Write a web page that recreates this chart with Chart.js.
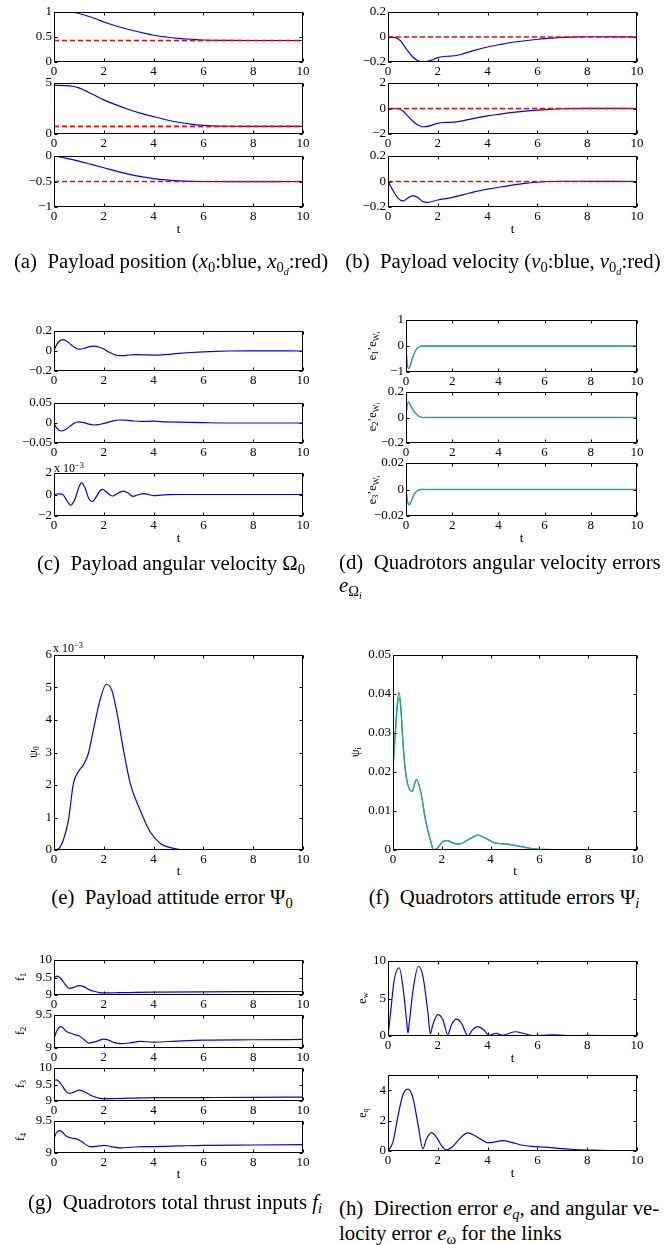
<!DOCTYPE html>
<html><head><meta charset="utf-8">
<script src="https://cdn.jsdelivr.net/npm/chart.js@4.4.0/dist/chart.umd.min.js"></script>
<style>
html,body{margin:0;padding:0;background:#fff;}
#root{position:relative;width:668px;height:1245px;overflow:hidden;font-family:"Liberation Serif","Times New Roman",serif;color:#000;}
canvas{position:absolute;}
.lbl{position:absolute;white-space:nowrap;font-size:12px;line-height:13px;}
.yl{transform:translate(-50%,-50%) rotate(-90deg);}
.xt{transform:translate(-50%,-50%);font-size:13px;}
.cap{position:absolute;white-space:nowrap;font-size:20.8px;line-height:24px;}
sub{font-size:70%;vertical-align:-0.3em;line-height:0;}
sup{font-size:70%;vertical-align:0.45em;line-height:0;}
</style></head><body><div id="root"></div>
<script>
// ---------------- DATA ----------------
const xTicks = [0, 2, 4, 6, 8, 10];

// (a) payload position x0 (blue) and x0d (red)
const tA1 = [0,0.5,0.8,1,1.25,1.5,1.75,2,2.5,3,3.5,4,4.5,5,5.5,6,7,8,10];
const x0_1 = [1.0,0.998,0.99,0.97,0.935,0.895,0.85,0.80,0.72,0.65,0.59,0.535,0.5,0.474,0.455,0.44,0.432,0.43,0.43];
const tA2 = [0,0.5,0.75,1,1.25,1.5,2,2.5,3,3.5,4,4.5,5,5.5,6,6.5,7,8,10];
const x0_2 = [4.76,4.75,4.68,4.52,4.25,3.95,3.35,2.85,2.4,2.02,1.7,1.4,1.15,0.96,0.84,0.78,0.76,0.75,0.75];
const tA3 = [0,0.5,1,1.5,2,2.5,3,3.5,4,4.5,5,5.5,6,7,10];
const x0_3 = [0,-0.045,-0.1,-0.165,-0.23,-0.295,-0.355,-0.405,-0.443,-0.47,-0.487,-0.497,-0.5,-0.502,-0.5];
const tRef = [0, 10];
const x0d_1 = [0.43, 0.43];
const x0d_2 = [0.75, 0.75];
const x0d_3 = [-0.5, -0.5];

// (b) payload velocity v0 (blue) and v0d (red)
const tB1 = [0,0.3,0.5,0.75,1,1.25,1.45,1.75,2,2.25,2.5,2.75,3,3.5,4,4.5,5,5.5,6,6.5,7,7.5,8,10];
const v0_1 = [0,-0.005,-0.03,-0.1,-0.16,-0.195,-0.2,-0.185,-0.165,-0.156,-0.153,-0.148,-0.135,-0.105,-0.08,-0.06,-0.042,-0.03,-0.018,-0.01,-0.003,0,0.002,0];
const tB2 = [0,0.4,0.6,0.8,1,1.2,1.4,1.6,1.8,2,2.25,2.5,2.75,3,3.5,4,4.5,5,5.5,6,6.5,7,8,10];
const v0_2 = [0,-0.02,-0.2,-0.6,-1.0,-1.3,-1.43,-1.4,-1.28,-1.16,-1.1,-1.09,-1.05,-0.97,-0.76,-0.58,-0.44,-0.31,-0.21,-0.13,-0.07,-0.02,0.01,0];
const tB3 = [0,0.2,0.4,0.6,0.8,1.0,1.2,1.4,1.6,2,2.5,3,3.5,4,4.5,5,5.5,6,6.5,7,10];
const v0_3 = [0,-0.07,-0.13,-0.152,-0.13,-0.11,-0.125,-0.158,-0.163,-0.145,-0.128,-0.105,-0.08,-0.06,-0.043,-0.028,-0.015,-0.006,0,0.002,0];
const v0d = [0, 0];

// (c) payload angular velocity Omega0
const tC1 = [0,0.1,0.2,0.35,0.5,0.7,0.9,1.0,1.2,1.4,1.6,1.8,2.0,2.2,2.4,2.6,2.8,3.0,3.3,3.6,4.0,4.5,5,5.5,6,6.5,7,8,10];
const om0_1 = [0,0.06,0.095,0.113,0.1,0.06,0.025,0.018,0.025,0.042,0.048,0.04,0.02,-0.01,-0.035,-0.047,-0.046,-0.04,-0.037,-0.038,-0.041,-0.035,-0.024,-0.015,-0.008,-0.003,0,0.001,0];
const tC2 = [0,0.1,0.3,0.5,0.7,0.9,1.0,1.2,1.4,1.6,1.8,2.0,2.3,2.6,2.9,3.2,3.5,4.0,4.5,5,6,7,10];
const om0_2 = [0,-0.012,-0.02,-0.015,-0.005,0.002,0.003,0.001,-0.003,-0.005,-0.004,-0.001,0.004,0.0075,0.007,0.005,0.004,0.0045,0.003,0.002,0.0008,0,0];
const tC3 = [0,0.2,0.35,0.5,0.67,0.85,1.0,1.11,1.25,1.4,1.54,1.7,1.85,1.96,2.1,2.25,2.36,2.55,2.79,3.0,3.16,3.35,3.6,3.8,4.0,4.3,4.6,5,10];
const om0_3e3 = [0,0.05,0,-0.5,-1.0,-0.4,0.7,1.08,0.6,-0.4,-0.66,-0.2,0.35,0.47,0.25,-0.05,-0.14,0.1,0.32,0.1,-0.17,-0.05,0.08,0,-0.1,-0.05,-0.02,0,0]; // x 10^-3

// (d) quadrotors angular velocity errors
const tD1 = [0,0.03,0.07,0.12,0.18,0.25,0.32,0.4,0.5,0.6,0.7,10];
const eW1 = [0,-0.45,-0.8,-0.87,-0.76,-0.55,-0.36,-0.2,-0.08,-0.02,0,0];
const tD2 = [0,0.04,0.1,0.15,0.2,0.3,0.4,0.5,0.6,0.7,10];
const eW2 = [0,0.08,0.12,0.115,0.095,0.06,0.035,0.018,0.006,0,0];
const tD3 = [0,0.04,0.09,0.14,0.2,0.28,0.36,0.45,0.55,0.65,10];
const eW3 = [0,-0.006,-0.0105,-0.0115,-0.01,-0.0065,-0.0035,-0.0015,-0.0004,0,0];

// (e) payload attitude error Psi0 (x 10^-3)
const tE = [0,0.15,0.375,0.58,0.78,0.98,1.18,1.38,1.58,1.85,2.1,2.32,2.52,2.79,3.06,3.46,3.86,4.26,4.8,5.3,6,10];
const psi0e3 = [0,0.02,0.31,0.92,2.05,2.41,2.62,2.97,3.69,4.62,5.1,4.92,4.26,3.08,2.05,1.23,0.56,0.21,0.05,0,0,0];

// (f) quadrotors attitude errors Psi_i
const tF = [0,0.1,0.18,0.25,0.32,0.42,0.55,0.78,0.96,1.15,1.33,1.53,1.67,1.8,2.08,2.22,2.45,2.7,3.18,3.48,3.8,4.14,4.68,5.23,5.78,6.5,8,10];
const psiA = [0.021,0.03,0.037,0.039,0.036,0.026,0.0184,0.015,0.018,0.0145,0.0077,0.0026,0,0.0004,0.0023,0.0024,0.0018,0.0015,0.003,0.0038,0.003,0.0019,0.0015,0.0009,0.0003,0.0001,0,0];
const psiB = [0.021,0.031,0.038,0.0405,0.037,0.027,0.0186,0.015,0.0182,0.0146,0.0078,0.0026,0,0.0004,0.0023,0.0024,0.0018,0.0015,0.003,0.0038,0.003,0.0019,0.0015,0.0009,0.0003,0.0001,0,0];

// (g) quadrotors total thrust inputs
const tG1 = [0,0.13,0.3,0.45,0.62,0.8,1.0,1.2,1.45,1.65,1.85,2,2.5,3,4,6,8,10];
const f1 = [9.5,9.54,9.45,9.3,9.19,9.22,9.27,9.24,9.14,9.1,9.07,9.06,9.065,9.07,9.08,9.09,9.095,9.1];
const tG2 = [0,0.1,0.28,0.5,0.7,0.85,1.0,1.2,1.4,1.7,2,2.2,2.4,2.7,3.1,3.45,4,4.9,6,8,10];
const f2 = [9.135,9.25,9.325,9.25,9.22,9.2,9.185,9.13,9.075,9.1,9.135,9.12,9.085,9.065,9.08,9.1,9.09,9.105,9.12,9.125,9.13];
const tG3 = [0,0.1,0.3,0.45,0.6,0.8,1.0,1.2,1.45,1.65,1.85,2,2.5,3,4,6,8,10];
const f3 = [9.62,9.64,9.5,9.32,9.23,9.27,9.33,9.29,9.18,9.12,9.08,9.07,9.075,9.085,9.1,9.105,9.11,9.12];
const tG4 = [0,0.1,0.24,0.5,0.7,0.9,1.1,1.45,1.7,2,2.3,2.7,3.1,3.6,4,5,6,8,10];
const f4 = [9.23,9.32,9.35,9.26,9.235,9.22,9.18,9.1,9.105,9.12,9.1,9.08,9.09,9.1,9.1,9.11,9.12,9.125,9.13];

// (h) link errors
const tH1 = [0,0.1,0.25,0.45,0.62,0.75,0.8,0.85,1.0,1.22,1.4,1.6,1.7,1.8,2.0,2.2,2.4,2.55,2.75,2.95,3.1,3.2,3.4,3.6,3.85,4.05,4.35,4.6,5.1,5.5,5.8,6.6,7.5,8,9,10];
const ew = [0,3.0,7.5,9.1,6.0,1.9,0.4,1.6,6.0,9.3,8.0,3.2,0.3,1.5,2.85,2.2,0.2,1.5,2.25,1.7,0.6,0,0.85,1.25,0.8,0.1,0.35,0.1,0.57,0.3,0.05,0.15,0.05,0.08,0.03,0];
const tH2 = [0,0.2,0.4,0.6,0.8,1.0,1.2,1.4,1.55,1.75,1.95,2.15,2.35,2.6,2.9,3.2,3.5,3.8,4.0,4.3,4.6,5.0,5.4,5.8,6.3,7,7.5,8.5,10];
const eq = [0,0.6,2.3,3.7,4.07,3.5,1.8,0.15,0.8,1.21,0.9,0.35,0.07,0.3,0.85,1.19,1.0,0.7,0.55,0.6,0.68,0.55,0.38,0.3,0.25,0.15,0.1,0.05,0];

// ---------------- RENDERING ----------------
const root = document.getElementById('root');
const BLUE = '#0000ff', RED = '#ff0000', TEAL = '#2aa2aa', GREEN = '#33a033';
const SERIF = '"Liberation Serif", "Times New Roman", Times, serif';
Chart.defaults.font.family = SERIF;
Chart.defaults.color = '#000';
const tickFont = {family: SERIF, size: 13};
const fmt = v => String(Math.round(v * 1e6) / 1e6).replace('-', '\u2212');

const boxTicks = {
  id: 'boxTicks',
  afterDatasetsDraw(chart) {
    const {ctx, chartArea: a, scales: {x, y}} = chart;
    ctx.save();
    ctx.setLineDash([]);
    ctx.strokeStyle = '#000'; ctx.lineWidth = 1;
    const L = Math.round(a.left) + 0.5, R = Math.round(a.right) - 0.5;
    const T = Math.round(a.top) + 0.5, B = Math.round(a.bottom) - 0.5;
    ctx.beginPath();
    x.ticks.forEach(t => { const p = Math.round(x.getPixelForValue(t.value)) + 0.5;
      ctx.moveTo(p, B); ctx.lineTo(p, B - 3); ctx.moveTo(p, T); ctx.lineTo(p, T + 3); });
    y.ticks.forEach(t => { const p = Math.round(y.getPixelForValue(t.value)) + 0.5;
      ctx.moveTo(L, p); ctx.lineTo(L + 3, p); ctx.moveTo(R, p); ctx.lineTo(R - 3, p); });
    ctx.stroke();
    ctx.strokeRect(L, T, R - L, B - T);
    ctx.restore();
  }
};

function plot(box, yr, series) {
  const YW = 48, PT = 10, PR = 12, XH = 18;
  const [l, t, w, h] = box;
  const cv = document.createElement('canvas');
  const W = w + YW + PR, H = h + PT + XH;
  cv.width = W; cv.height = H;
  cv.style.left = (l - YW) + 'px'; cv.style.top = (t - PT) + 'px';
  cv.style.width = W + 'px'; cv.style.height = H + 'px';
  root.appendChild(cv);
  new Chart(cv, {
    type: 'line',
    data: {datasets: series.map(s => ({
      data: s.t.map((tt, i) => ({x: tt, y: s.v[i]})),
      borderColor: s.c, borderWidth: s.w || 1.2, borderDash: s.dash || [],
      pointRadius: 0, cubicInterpolationMode: 'monotone', fill: false
    }))},
    options: {
      responsive: false, animation: false, devicePixelRatio: 1,
      layout: {padding: {top: PT, right: PR, left: 0, bottom: 0}},
      plugins: {legend: {display: false}, tooltip: {enabled: false}},
      scales: {
        x: {type: 'linear', min: 0, max: 10,
            grid: {display: false, drawTicks: false}, border: {display: false},
            afterBuildTicks: s => { s.ticks = xTicks.map(v => ({value: v})); },
            ticks: {padding: 2, maxRotation: 0, autoSkip: false, font: tickFont, color: '#000', callback: fmt},
            afterFit: s => { s.height = XH; }},
        y: {type: 'linear', min: yr[0], max: yr[1],
            grid: {display: false, drawTicks: false}, border: {display: false},
            afterBuildTicks: s => { s.ticks = yr[2].map(v => ({value: v})); },
            ticks: {padding: 2, autoSkip: false, font: tickFont, color: '#000', callback: fmt},
            afterFit: s => { s.width = YW; }}
      }
    },
    plugins: [boxTicks]
  });
}

function html(cls, x, y, content, extra) {
  const d = document.createElement('div');
  d.className = cls; d.innerHTML = content;
  d.style.left = x + 'px'; d.style.top = y + 'px';
  if (extra) Object.assign(d.style, extra);
  root.appendChild(d);
  return d;
}

const dash = [5, 3];
const rw = 1.6;
// (a)
plot([54, 12, 249, 50], [0, 1, [0, 0.5, 1]], [{t: tRef, v: x0d_1, c: RED, dash, w: rw}, {t: tA1, v: x0_1, c: BLUE}]);
plot([54, 83, 249, 51], [0, 5, [0, 5]], [{t: tRef, v: x0d_2, c: RED, dash, w: rw}, {t: tA2, v: x0_2, c: BLUE}]);
plot([54, 156, 249, 51], [-1, 0, [-1, -0.5, 0]], [{t: tRef, v: x0d_3, c: RED, dash, w: rw}, {t: tA3, v: x0_3, c: BLUE}]);
// (b)
plot([388, 12, 249, 50], [-0.2, 0.2, [-0.2, 0, 0.2]], [{t: tRef, v: v0d, c: RED, dash, w: rw}, {t: tB1, v: v0_1, c: BLUE}]);
plot([388, 83, 249, 51], [-2, 2, [-2, 0, 2]], [{t: tRef, v: v0d, c: RED, dash, w: rw}, {t: tB2, v: v0_2, c: BLUE}]);
plot([388, 156, 249, 51], [-0.2, 0.2, [-0.2, 0, 0.2]], [{t: tRef, v: v0d, c: RED, dash, w: rw}, {t: tB3, v: v0_3, c: BLUE}]);
// (c)
plot([54, 331, 249, 40], [-0.2, 0.2, [-0.2, 0, 0.2]], [{t: tC1, v: om0_1, c: BLUE}]);
plot([54, 403, 249, 40], [-0.05, 0.05, [-0.05, 0, 0.05]], [{t: tC2, v: om0_2, c: BLUE}]);
plot([54, 473, 249, 43], [-2, 2, [-2, 0, 2]], [{t: tC3, v: om0_3e3, c: BLUE}]);
// (d)
plot([406, 320, 231, 52], [-1, 1, [-1, 0, 1]], [{t: tD1, v: eW1, c: TEAL, w: 1.3}, {t: tD1, v: eW1, c: GREEN, w: 1}]);
plot([406, 392, 231, 51], [-0.2, 0.2, [-0.2, 0, 0.2]], [{t: tD2, v: eW2, c: TEAL, w: 1.3}, {t: tD2, v: eW2, c: GREEN, w: 1}]);
plot([406, 463, 231, 53], [-0.02, 0.02, [-0.02, 0, 0.02]], [{t: tD3, v: eW3, c: TEAL, w: 1.3}, {t: tD3, v: eW3, c: GREEN, w: 1}]);
// (e)
plot([54, 655, 249, 195], [0, 6, [0, 1, 2, 3, 4, 5, 6]], [{t: tE, v: psi0e3, c: BLUE}]);
// (f)
plot([393, 655, 244, 195], [0, 0.05, [0, 0.01, 0.02, 0.03, 0.04, 0.05]], [{t: tF, v: psiA, c: TEAL, w: 1.3}, {t: tF, v: psiB, c: GREEN, w: 1.2}]);
// (g)
plot([54, 960, 249, 35], [9, 10, [9, 9.5, 10]], [{t: tG1, v: f1, c: BLUE}]);
plot([54, 1015, 249, 33], [9, 9.5, [9, 9.5]], [{t: tG2, v: f2, c: BLUE}]);
plot([54, 1068, 249, 33], [9, 10, [9, 9.5, 10]], [{t: tG3, v: f3, c: BLUE}]);
plot([54, 1121, 249, 32], [9, 9.5, [9, 9.5]], [{t: tG4, v: f4, c: BLUE}]);
// (h)
plot([388, 961, 249, 75], [0, 10, [0, 5, 10]], [{t: tH1, v: ew, c: BLUE}]);
plot([388, 1075, 249, 76], [0, 5, [0, 2, 4]], [{t: tH2, v: eq, c: BLUE}]);

// axis titles
[[178.5, 228], [512.5, 228], [178.5, 537], [521.5, 537], [178.5, 870], [515, 870], [178.5, 1173], [512.5, 1057], [512.5, 1172]]
  .forEach(([x, y]) => html('lbl xt', x, y, 't'));
const yLab = [
  [372, 346, 'e<sub>1</sub>\u2019e<sub>W<sub>i</sub></sub>'],
  [372, 417, 'e<sub>2</sub>\u2019e<sub>W<sub>i</sub></sub>'],
  [372, 490, 'e<sub>3</sub>\u2019e<sub>W<sub>i</sub></sub>'],
  [33, 752, '\u03c8<sub>0</sub>'],
  [355, 752, '\u03c8<sub>i</sub>'],
  [20, 977, 'f<sub>1</sub>'], [20, 1031, 'f<sub>2</sub>'], [20, 1084, 'f<sub>3</sub>'], [20, 1137, 'f<sub>4</sub>'],
  [362, 998, 'e<sub>w</sub>'], [362, 1113, 'e<sub>q</sub>']
];
yLab.forEach(([x, y, s]) => html('lbl yl', x, y, s));
html('lbl', 54, 462, 'x 10<sup>\u22123</sup>');
html('lbl', 53, 642, 'x 10<sup>\u22123</sup>');

// captions
function capC(cx, cy, s) { html('cap', cx, cy - 12, s, {transform: 'translateX(-50%)'}); }
capC(171, 261, '(a)&nbsp; Payload position (<i>x</i><sub>0</sub>:blue, <i>x</i><sub>0<sub><i>d</i></sub></sub>:red)');
capC(503, 261, '(b)&nbsp; Payload velocity (<i>v</i><sub>0</sub>:blue, <i>v</i><sub>0<sub><i>d</i></sub></sub>:red)');
capC(171, 563, '(c)&nbsp; Payload angular velocity \u03a9<sub>0</sub>');
html('cap', 339, 550, '(d)&nbsp; Quadrotors angular velocity errors');
html('cap', 339, 573, '<i>e</i><sub>\u03a9<sub><i>i</i></sub></sub>');
capC(172, 897, '(e)&nbsp; Payload attitude error \u03a8<sub>0</sub>');
capC(504, 897, '(f)&nbsp; Quadrotors attitude errors \u03a8<sub><i>i</i></sub>');
capC(175, 1202, '(g)&nbsp; Quadrotors total thrust inputs <i>f<sub>i</sub></i>');
html('cap', 339, 1196, '(h)&nbsp; Direction error <i>e<sub>q</sub></i>, and angular ve-');
html('cap', 339, 1221, 'locity error <i>e</i><sub>\u03c9</sub> for the links');
</script></body></html>
